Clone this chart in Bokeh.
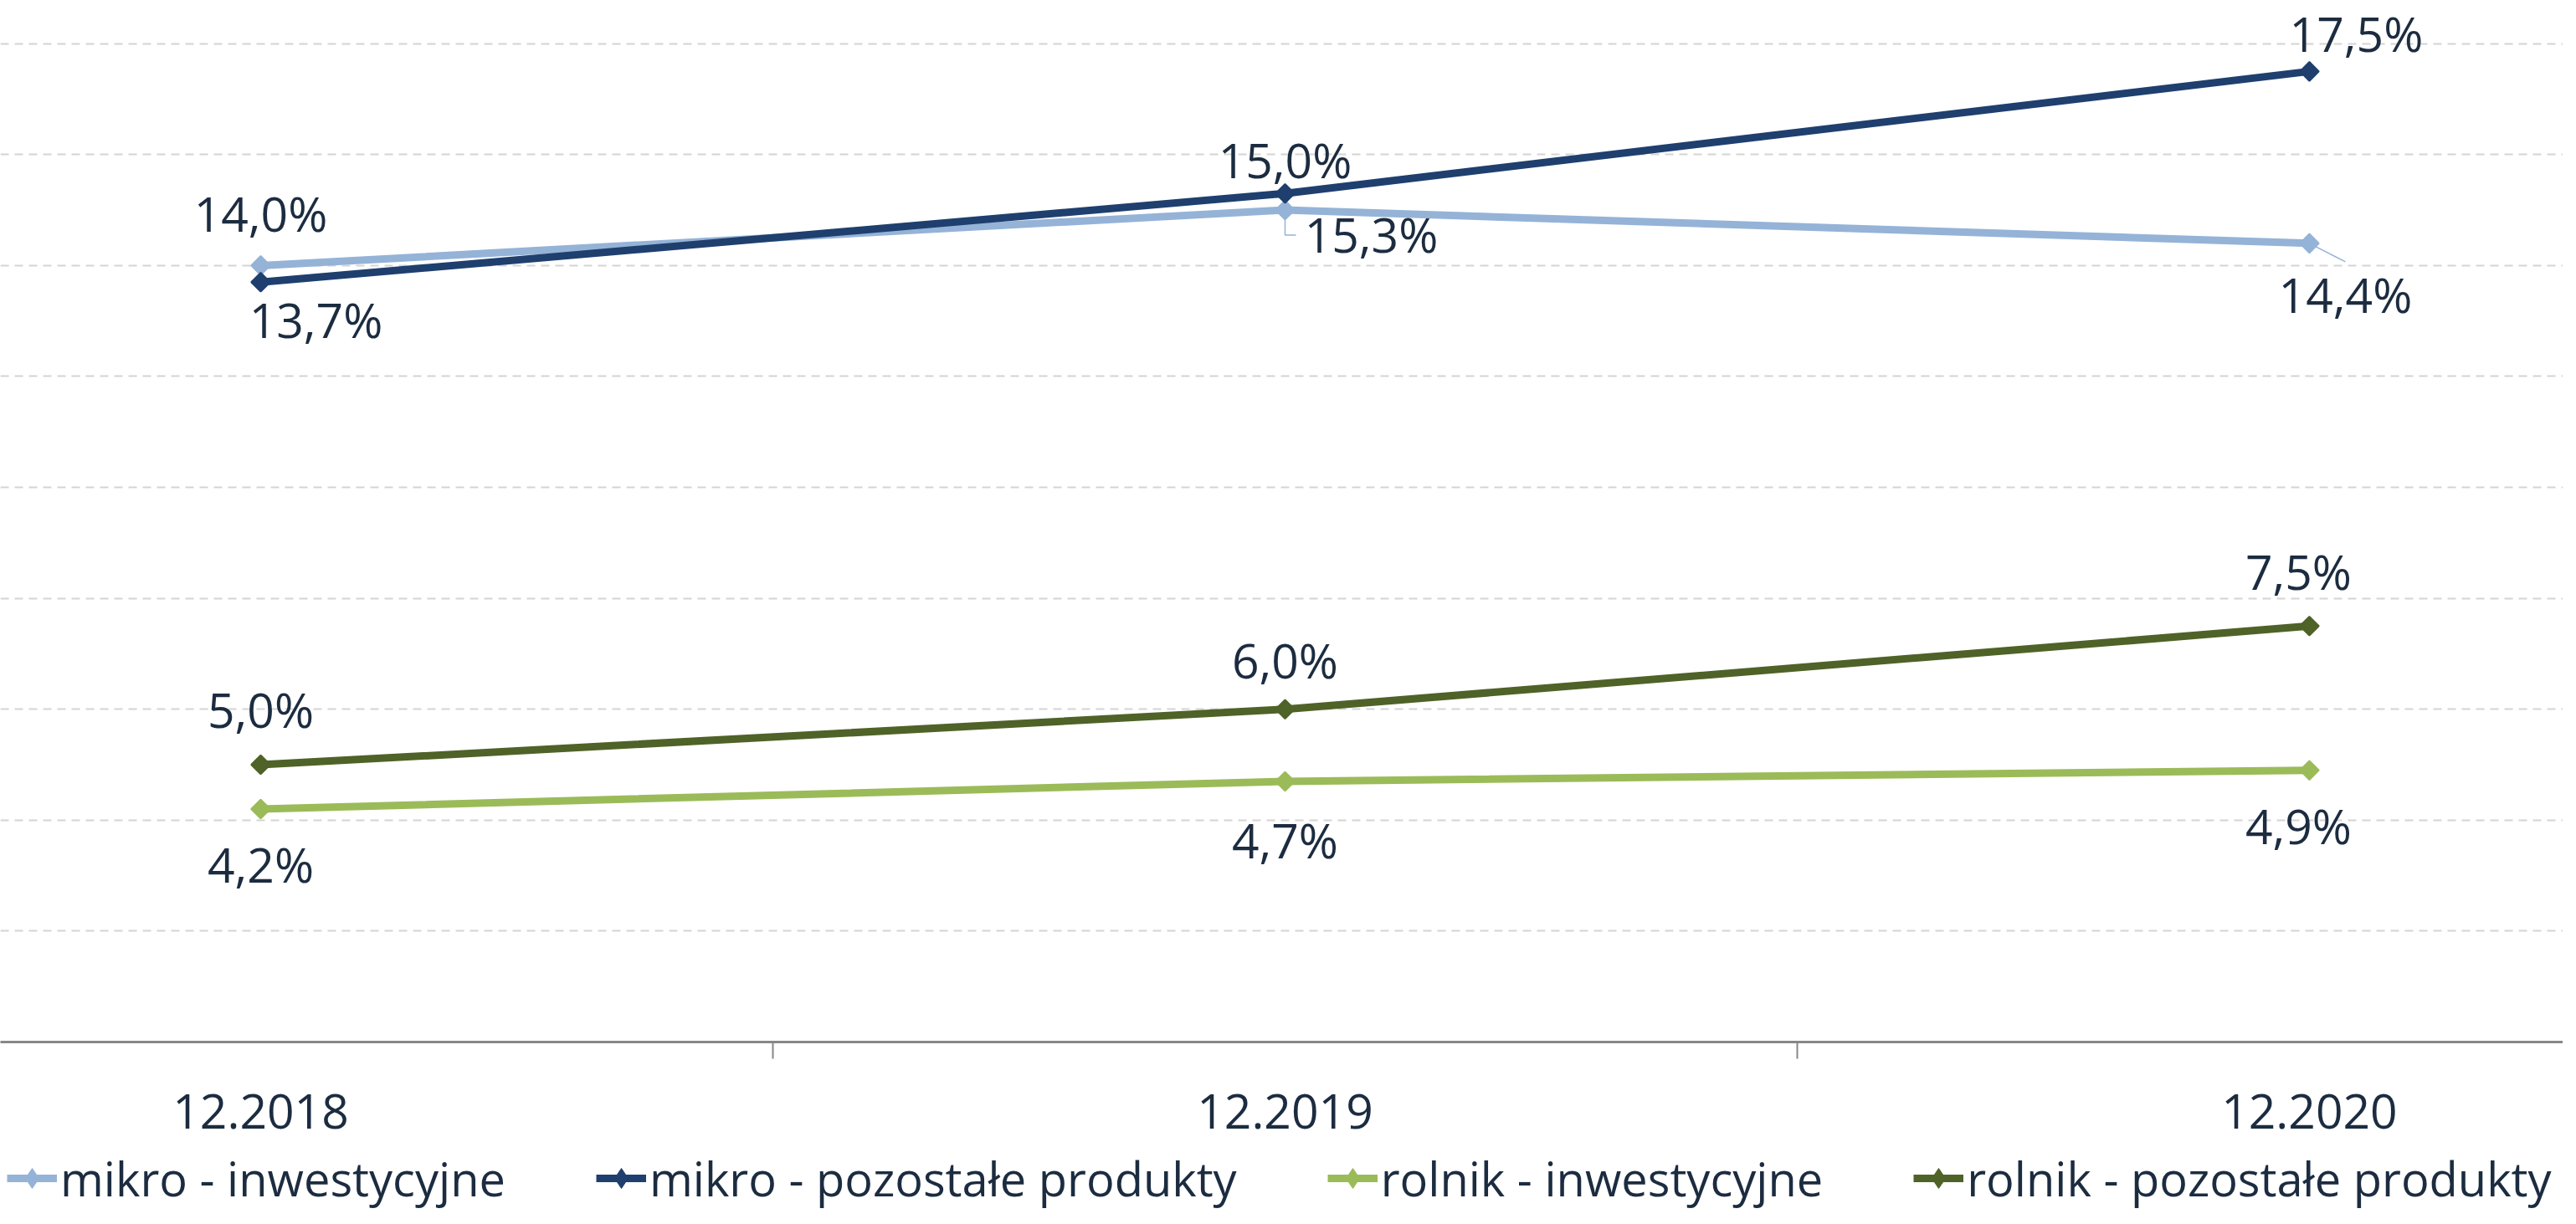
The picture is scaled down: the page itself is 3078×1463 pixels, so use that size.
import math
from bokeh.plotting import figure
from bokeh.models import (Range1d, LinearAxis, FixedTicker, Grid, Legend, LegendItem,
                          ColumnDataSource, LabelSet)
from bokeh.layouts import column
from bokeh.core.properties import value
from bokeh.embed import file_html
from bokeh.resources import INLINE

# ---------------- data ----------------
categories = ["12.2018", "12.2019", "12.2020"]
series_names = ["mikro - inwestycyjne", "mikro - pozostałe produkty",
                "rolnik - inwestycyjne", "rolnik - pozostałe produkty"]
mikro_inwestycyjne = [14.0, 15.0, 14.4]
mikro_pozostale = [13.7, 15.3, 17.5]
rolnik_inwestycyjne = [4.2, 4.7, 4.9]
rolnik_pozostale = [5.0, 6.0, 7.5]
labels_mikro_inw = ["14,0%", "15,3%", "14,4%"]
labels_mikro_poz = ["13,7%", "15,0%", "17,5%"]
labels_rolnik_inw = ["4,2%", "4,7%", "4,9%"]
labels_rolnik_poz = ["5,0%", "6,0%", "7,5%"]
y_ticks = [2, 4, 6, 8, 10, 12, 14, 16, 18]

# ---------------- style ----------------
FONT = "Open Sans"
TEXT_COLOR = "#1c2c40"
colors = ["#95B3D7", "#1F3F6E", "#9BBB59", "#4F6228"]
# label offsets in screen pixels (x right, y up)
x_offsets = [[0, 103, 43], [66, 0, 56], [0, 0, -13], [0, 0, -13]]
y_offsets = [[62, -29, -61], [-45, 40, 45], [-66, -70, -66], [66, 59, 65]]

FIG_W, TOTAL_H = 3062, 1447
FRAME_H = 1245
AX_H = 122
X0, X1 = -0.2541, 2.2476
Y0, Y1 = 0.0, 18.78

p = figure(width=FIG_W, height=FRAME_H + AX_H, output_backend="svg", toolbar_location=None,
           x_range=Range1d(X0, X1), y_range=Range1d(Y0, Y1),
           x_axis_location=None, y_axis_location=None,
           min_border_left=0, min_border_right=0, min_border_top=0,
           min_border_bottom=AX_H)
p.outline_line_color = None
p.grid.visible = False
p.background_fill_color = "white"
p.border_fill_color = "white"

grid = Grid(dimension=1, ticker=FixedTicker(ticks=y_ticks),
            grid_line_color="#d4d4d4", grid_line_width=2, grid_line_dash="10 7")
p.add_layout(grid, "center")

xaxis = LinearAxis(ticker=FixedTicker(ticks=[0, 1, 2], minor_ticks=[0.5, 1.5]),
                   major_label_overrides={i: c for i, c in enumerate(categories)})
xaxis.axis_line_color = "#878787"
xaxis.axis_line_width = 3
xaxis.major_tick_line_color = None
xaxis.major_tick_out = 0
xaxis.major_tick_in = 0
xaxis.minor_tick_line_color = "#878787"
xaxis.minor_tick_line_width = 2
xaxis.minor_tick_out = 20
xaxis.minor_tick_in = 0
xaxis.major_label_standoff = 42
xaxis.major_label_text_font = FONT
xaxis.major_label_text_font_size = "57px"
xaxis.major_label_text_color = TEXT_COLOR
p.add_layout(xaxis, "below")

xs = [0, 1, 2]
all_series = [mikro_inwestycyjne, mikro_pozostale, rolnik_inwestycyjne, rolnik_pozostale]
all_labels = [labels_mikro_inw, labels_mikro_poz, labels_rolnik_inw, labels_rolnik_poz]

# leader lines for the two moved labels of "mikro - inwestycyjne"
PX_X = FIG_W / (X1 - X0)
PX_Y = FRAME_H / (Y1 - Y0)
lx = xs[1]
ly = mikro_inwestycyjne[1]
p.line([lx, lx, lx + 13 / PX_X], [ly, ly - 30 / PX_Y, ly - 30 / PX_Y],
       line_color=colors[0], line_width=1.5)
lx2 = xs[2]
ly2 = mikro_inwestycyjne[2]
p.line([lx2, lx2 + 43 / PX_X], [ly2, ly2 - 22 / PX_Y],
       line_color=colors[0], line_width=1.5)

# legend lives in a strip below the chart (its own range shows no data)
leg = figure(width=FIG_W, height=TOTAL_H - FRAME_H - AX_H, output_backend="svg",
             toolbar_location=None, x_range=Range1d(0, 1), y_range=Range1d(-2, -1),
             x_axis_location=None, y_axis_location=None,
             min_border_left=0, min_border_right=0, min_border_top=0, min_border_bottom=0)
leg.outline_line_color = None
leg.grid.visible = False
leg.background_fill_color = "white"
leg.border_fill_color = "white"

items = []
for name, vals, labs, col, xo, yo in zip(series_names, all_series, all_labels,
                                         colors, x_offsets, y_offsets):
    src = ColumnDataSource(dict(x=xs, y=vals, lab=labs, xo=xo, yo=yo))
    p.line("x", "y", source=src, line_color=col, line_width=9,
           line_join="round", line_cap="round")
    p.scatter("x", "y", source=src, marker="square", angle=math.pi / 4, size=16,
              fill_color=col, line_color=col, line_width=2)
    ls = LabelSet(x="x", y="y", text="lab", x_offset="xo", y_offset="yo", source=src,
                  text_align="center", text_baseline="middle",
                  text_font=value(FONT), text_font_size="57px", text_color=TEXT_COLOR)
    p.add_layout(ls)
    lr = leg.line("x", "y", source=src, line_color=col, line_width=9)
    lp = leg.scatter("x", "y", source=src, marker="diamond", size=24,
                     fill_color=col, line_color=col)
    items.append(LegendItem(label=name, renderers=[lr, lp]))

legend = Legend(items=items, orientation="horizontal", location=(8, 1),
                glyph_width=60, glyph_height=60, label_standoff=4, spacing=108,
                padding=0, margin=0, border_line_color=None, background_fill_alpha=0,
                label_text_font=FONT, label_text_font_size="56px",
                label_text_color=TEXT_COLOR)
leg.add_layout(legend, "center")

layout = column(p, leg, spacing=0)
open("out.html", "w").write(file_html(layout, INLINE))
